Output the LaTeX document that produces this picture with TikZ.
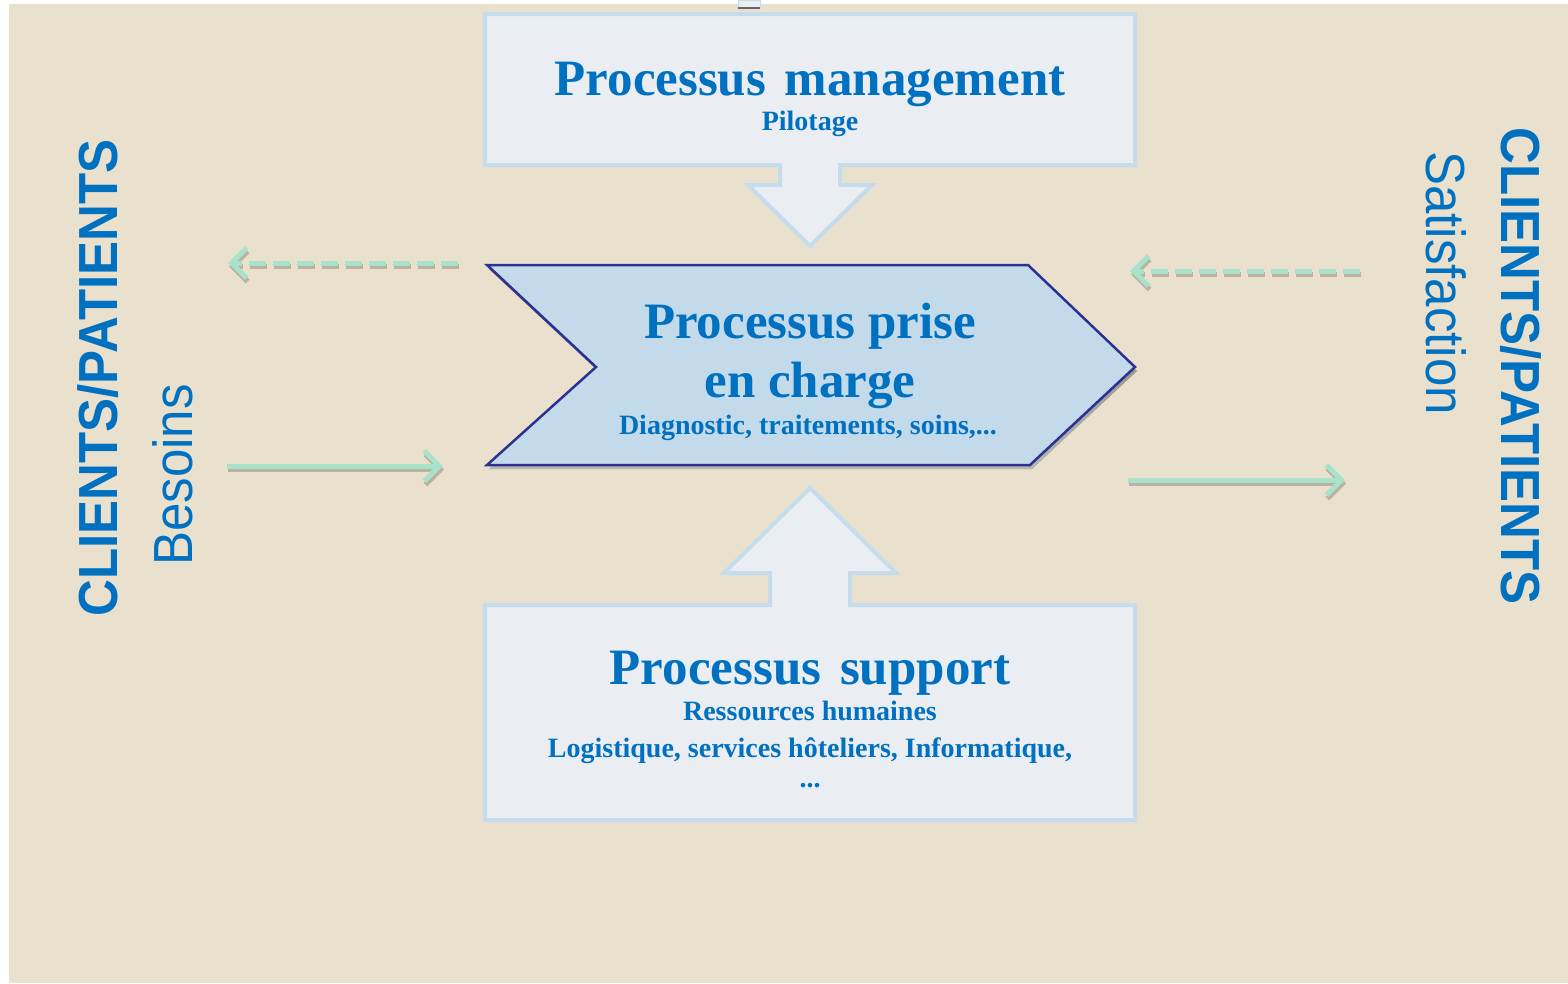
\documentclass[tikz,border=0pt]{standalone}
\usepackage{fontspec}
\setmainfont{Liberation Serif}
\setsansfont{Liberation Sans}
\usetikzlibrary{arrows.meta}
\definecolor{bg}{HTML}{E9E1CE}
\definecolor{boxfill}{HTML}{EAEEF3}
\definecolor{boxline}{HTML}{C4DCEB}
\definecolor{chevfill}{HTML}{C3DAEB}
\definecolor{chevline}{HTML}{2E3192}
\definecolor{txt}{HTML}{0070C0}
\definecolor{mint}{HTML}{A8E2CA}
\definecolor{shade}{HTML}{8E8474}
\tikzset{
  outline/.style={draw=boxline, line width=4pt, fill=boxfill, line join=miter},
  bigtxt/.style={anchor=base, text=txt, inner sep=0pt, font=\fontsize{51}{60}\selectfont\bfseries},
  smalltxt/.style={anchor=base, text=txt, inner sep=0pt, font=\fontsize{28}{34}\selectfont\bfseries},
  sidebold/.style={text=txt, inner sep=0pt, font=\fontsize{51}{60}\selectfont\sffamily\bfseries},
  sidereg/.style={text=txt, inner sep=0pt, font=\fontsize{51}{60}\selectfont\sffamily},
  flowarrow/.style={draw=mint, line width=5pt, -{Straight Barb[length=15pt,width=30pt]}},
  flowshadow/.style={draw=shade, line width=5pt, opacity=0.5, -{Straight Barb[length=15pt,width=30pt]}},
  dashedflow/.style={dash pattern=on 17pt off 7pt}
}
\begin{document}
\begin{tikzpicture}[x=1pt,y=-1pt]
\useasboundingbox (0,0) rectangle (1568,983);
\fill[white] (0,0) rectangle (1568,983);
\fill[bg] (9,4) rectangle (1568,983);

% small clipped artifact at the top
\filldraw[fill=boxfill, draw=boxline, line width=1pt] (738,0) rectangle (760,8);
\draw[draw=gray!80!black, line width=1.5pt] (738,8) -- (760,8);

% ---- management box with down arrow
\coordinate (mTL) at (485,14);
\coordinate (mTR) at (1135,14);
\coordinate (mBR) at (1135,165);
\coordinate (mBL) at (485,165);
\draw[outline] (mTL) -- (mTR) -- (mBR) -- (840,165) -- (840,185) -- (872,185)
  -- (810,246) -- (748,185) -- (780,185) -- (780,165) -- (mBL) -- cycle;
\node[bigtxt] (mgmt) at (810,95) {Processus\hspace{6pt} management};
\node[smalltxt] (pilot) at (810,130) {Pilotage};

% ---- support box with up arrow
\coordinate (sTL) at (485,605);
\coordinate (sTR) at (1135,605);
\coordinate (sBR) at (1135,820);
\coordinate (sBL) at (485,820);
\draw[outline] (sBL) -- (sTL) -- (770,605) -- (770,573) -- (724,573) -- (810,488)
  -- (896,573) -- (850,573) -- (850,605) -- (sTR) -- (sBR) -- cycle;
\node[bigtxt] (supp) at (810,684) {Processus\hspace{6pt} support};
\node[smalltxt] (rh) at (810,720) {Ressources humaines};
\node[smalltxt] (logi) at (810,757) {Logistique, services hôteliers, Informatique,};
\node[smalltxt] (dots) at (810,787) {...};

% ---- central chevron
\coordinate (cTL) at (487,265);
\coordinate (cTR) at (1028,265);
\coordinate (cTip) at (1135,367);
\coordinate (cBR) at (1030,465);
\coordinate (cBL) at (487,465);
\coordinate (cNotch) at (596,367);
\begin{scope}[transform canvas={shift={(2pt,-4pt)}}]
  \fill[shade, opacity=0.45] (cTL) -- (cTR) -- (cTip) -- (cBR) -- (cBL) -- (cNotch) -- cycle;
\end{scope}
\draw[fill=chevfill, draw=chevline, line width=2.5pt, line join=miter] (cTL) -- (cTR) -- (cTip) -- (cBR) -- (cBL) -- (cNotch) -- cycle;
\node[bigtxt] (prise1) at (810,338) {Processus prise};
\node[bigtxt] (prise2) at (810,397) {en charge};
\node[smalltxt] (diag) at (808,434) {Diagnostic, traitements, soins,...};

% ---- flow arrows
\coordinate (ldS) at (458,263);
\coordinate (ldE) at (228,263);
\coordinate (lsS) at (227,466);
\coordinate (lsE) at (443,466);
\coordinate (rdS) at (1360,271);
\coordinate (rdE) at (1130,271);
\coordinate (rsS) at (1128,480);
\coordinate (rsE) at (1345,480);
\begin{scope}[transform canvas={shift={(1pt,-3.5pt)}}]
  \draw[flowshadow, dashedflow] (ldS) -- (ldE);
  \draw[flowshadow] (lsS) -- (lsE);
  \draw[flowshadow, dashedflow] (rdS) -- (rdE);
  \draw[flowshadow] (rsS) -- (rsE);
\end{scope}
\draw[flowarrow, dashedflow] (ldS) -- (ldE);
\draw[flowarrow] (lsS) -- (lsE);
\draw[flowarrow, dashedflow] (rdS) -- (rdE);
\draw[flowarrow] (rsS) -- (rsE);

% ---- side labels
\node[sidebold, rotate=90] (cliL) at (98,378) {\scalebox{1}[1.08]{CLIENTS/PATIENTS}};
\node[sidereg, rotate=90] (bes) at (173,475) {\scalebox{1}[1.08]{Besoins}};
\node[sidebold, rotate=-90] (cliR) at (1521,366) {\scalebox{1}[1.08]{CLIENTS/PATIENTS}};
\node[sidereg, rotate=-90] (sat) at (1446,283) {\scalebox{1}[1.08]{Satisfaction}};
\end{tikzpicture}
\end{document}
